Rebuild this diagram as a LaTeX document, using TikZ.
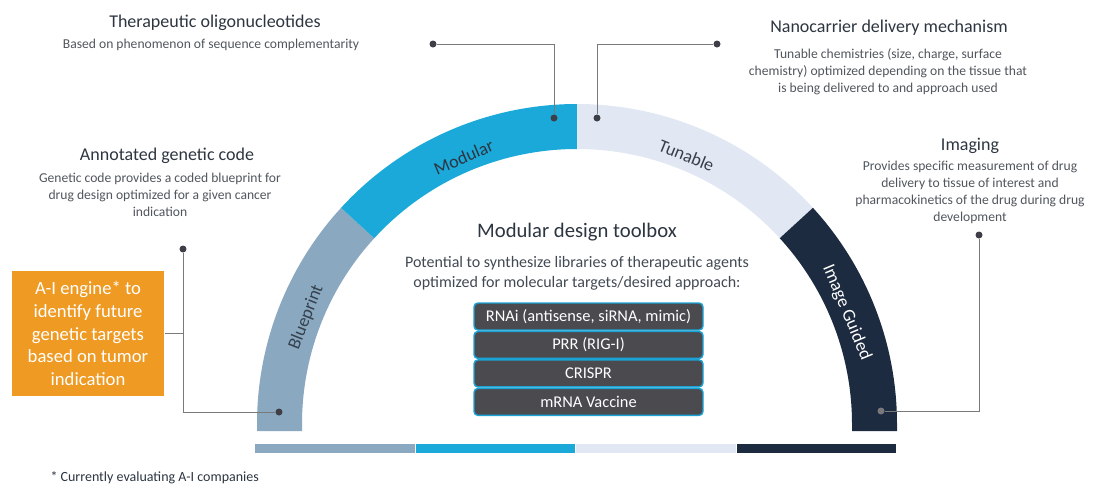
\documentclass[tikz,border=0pt]{standalone}
\usepackage{fontspec}
\setmainfont{Carlito}
\usetikzlibrary{positioning}

\definecolor{blueprintc}{HTML}{8AA8C0}
\definecolor{modularc}{HTML}{1BA9DA}
\definecolor{tunablec}{HTML}{E1E8F3}
\definecolor{guidedc}{HTML}{1D2B40}
\definecolor{enginec}{HTML}{EE9A23}
\definecolor{toolc}{HTML}{4A4A4F}
\definecolor{toolrim}{HTML}{1BA3D5}
\definecolor{titlec}{HTML}{2C3540}
\definecolor{notec}{HTML}{50565D}
\definecolor{leadc}{HTML}{7A7A7A}
\definecolor{pinc}{HTML}{3E3E46}

\tikzset{every picture/.style={line width=0.75pt}}

\begin{document}
\begin{tikzpicture}[x=0.75pt,y=0.75pt,yscale=-1,xscale=1,
  title/.style={text=titlec,font=\fontsize{13.5}{16}\selectfont,inner sep=0.75pt},
  note/.style={text=notec,font=\fontsize{10.2}{12.75}\selectfont,align=center,inner sep=0.75pt},
  pin/.style={circle,fill=pinc,inner sep=0pt,minimum size=5.25pt},
  lead/.style={draw=leadc,line width=0.75pt},
  tool/.style={draw=toolrim,fill=toolc,rounded corners=3pt,line width=1.1pt,minimum width=171.75pt,minimum height=20.25pt,inner sep=0pt,text=white,font=\fontsize{12.3}{14}\selectfont},
  bandlabel/.style={font=\fontsize{13.5}{15}\selectfont,inner sep=0.75pt}]
\useasboundingbox (0,0) rectangle (1093,486);

%Shape: Arc band Blueprint
\fill[blueprintc] (257,431) -- (257,424) arc[start angle=-180,end angle=-137.5,radius=320] -- ([shift={(-137.5:275)}]577,424) arc[start angle=-137.5,end angle=-180,radius=275] -- (302,431) -- cycle;
%Shape: Arc band Modular
\fill[modularc] ([shift={(-137.5:320)}]577,424) arc[start angle=-137.5,end angle=-90,radius=320] -- ([shift={(-90:275)}]577,424) arc[start angle=-90,end angle=-137.5,radius=275] -- cycle;
%Shape: Arc band Tunable
\fill[tunablec] ([shift={(-90:320)}]577,424) arc[start angle=-90,end angle=-42.5,radius=320] -- ([shift={(-42.5:275)}]577,424) arc[start angle=-42.5,end angle=-90,radius=275] -- cycle;
%Shape: Arc band Image Guided
\fill[guidedc] ([shift={(-42.5:320)}]577,424) arc[start angle=-42.5,end angle=0,radius=320] -- (897,431) -- (852,431) -- (852,424) arc[start angle=0,end angle=-42.5,radius=275] -- cycle;

%Shape: Bottom bar
\foreach \x/\c in {255/blueprintc,415.5/modularc,576/tunablec,736.5/guidedc}
  \fill[\c] (\x,444) rectangle ++(159.5,9);

% Band labels
\node[bandlabel,text=titlec!90!blueprintc,rotate=68.5] (blueprintLabel) at ([shift={(-158.5:291)}]577,424) {Blueprint};
\node[bandlabel,text=titlec,rotate=23] (modularLabel) at ([shift={(-113:290)}]577,424) {Modular};
\node[bandlabel,text=titlec!95,rotate=-22] (tunableLabel) at ([shift={(-67.8:290)}]577,424) {Tunable};
\node[bandlabel,text=white,rotate=-67.5] (guidedLabel) at ([shift={(-22.5:292)}]577,424) {Image Guided};

% Text Node
\node[title] (oligoTitle) at (215,23) {Therapeutic oligonucleotides};
\node[note] (oligoNote) at (211,45) {Based on phenomenon of sequence complementarity};
\node[title] (codeTitle) at (167,156) {Annotated genetic code};
\node[note] (codeNote) at (160,195) {Genetic code provides a coded blueprint for\\drug design optimized for a given cancer\\indication};
\node[title] (carrierTitle) at (889,28) {Nanocarrier delivery mechanism};
\node[note] (carrierNote) at (888,72) {Tunable chemistries (size, charge, surface\\chemistry) optimized depending on the tissue that\\is being delivered to and approach used};
\node[title] (imagingTitle) at (970,146) {Imaging};
\node[note] (imagingNote) at (970,192.5) {Provides specific measurement of drug\\delivery to tissue of interest and\\pharmacokinetics of the drug during drug\\development};

% Toolbox
\node[text=titlec,font=\fontsize{15.5}{18}\selectfont,inner sep=0.75pt] (toolboxTitle) at (577,232) {Modular design toolbox};
\node[text=titlec!90,font=\fontsize{12}{15}\selectfont,align=center,inner sep=0.75pt] (toolboxNote) at (577,273) {Potential to synthesize libraries of therapeutic agents\\optimized for molecular targets/desired approach:};
\node[tool] (rnai) at (588.5,316.5) {RNAi (antisense, siRNA, mimic)};
\node[tool,below=0pt of rnai] (prr) {PRR (RIG-I)};
\node[tool,below=0pt of prr] (crispr) {CRISPR};
\node[tool,below=0pt of crispr] (mrna) {mRNA Vaccine};

% A-I engine
\node[fill=enginec,text=white,align=center,minimum width=114pt,minimum height=93.75pt,inner sep=0pt,font=\fontsize{14}{16.9}\selectfont] (engine) at (88,333.5) {A-I engine* to\\identify future\\genetic targets\\based on tumor\\indication};

% Pins and leader lines
\node[pin] (pinOligo) at (433,44) {};
\node[pin] (pinModular) at (554,118) {};
\draw[lead] (pinOligo) -| (pinModular);
\node[pin] (pinCarrier) at (717,44) {};
\node[pin] (pinTunable) at (597,118) {};
\draw[lead] (pinCarrier) -| (pinTunable);
\node[pin] (pinImaging) at (979,235) {};
\node[pin,fill=pinc!70!white] (pinGuided) at (881,411) {};
\draw[lead] (pinImaging) |- (pinGuided);
\node[pin] (pinCode) at (183,249) {};
\node[pin] (pinBlueprint) at (279,412) {};
\draw[lead] (pinCode) |- (pinBlueprint);
\draw[lead] (engine.east) -- (engine.east -| pinCode);

% Footnote
\node[text=titlec,font=\fontsize{10.5}{12}\selectfont,anchor=west,inner sep=0pt] (footnote) at (50,478) {* Currently evaluating A-I companies};

\end{tikzpicture}
\end{document}
